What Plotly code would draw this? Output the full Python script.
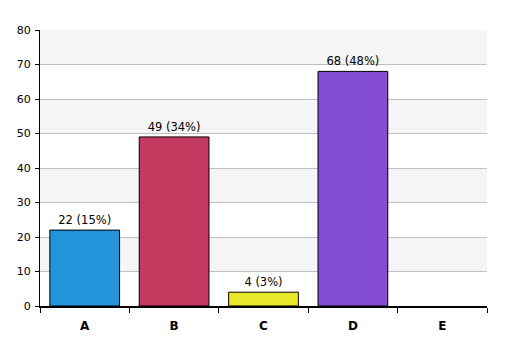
import plotly.graph_objects as go

categories = ["A", "B", "C", "D", "E"]
counts = [22, 49, 4, 68, 0]
percents = [15, 34, 3, 48, 0]
colors = ["#2394db", "#c4395f", "#e8e82a", "#844dd4", "#999999"]
y_ticks = [0, 10, 20, 30, 40, 50, 60, 70, 80]

labels = [f"{c} ({p}%)" if c > 0 else "" for c, p in zip(counts, percents)]
line_widths = [1 if c > 0 else 0 for c in counts]

fig = go.Figure()
fig.add_trace(go.Bar(
    x=categories, y=counts,
    marker=dict(color=colors, line=dict(color="black", width=line_widths)),
    text=labels, textposition="outside", cliponaxis=False,
    textfont=dict(family="DejaVu Sans", size=11.5, color="black"),
))

shapes = []
for i in range(0, len(y_ticks) - 1):
    if i % 2 == 1:
        shapes.append(dict(type="rect", xref="paper", yref="y", x0=0, x1=1,
                           y0=y_ticks[i], y1=y_ticks[i + 1], fillcolor="#f5f5f5",
                           line=dict(width=0), layer="below"))

fig.update_layout(
    width=499, height=348,
    margin=dict(l=32, r=20, t=22, b=50, autoexpand=False),
    plot_bgcolor="white", paper_bgcolor="white",
    bargap=0.22, showlegend=False, shapes=shapes,
    font=dict(family="DejaVu Sans", size=11, color="black"),
)
fig.update_xaxes(
    type="category", tickson="boundaries", ticks="outside", ticklen=5, tickcolor="black",
    showline=True, linecolor="black", linewidth=2, showgrid=False, automargin=False,
    tickfont=dict(family="DejaVu Sans", size=12, color="black", weight="bold"),
    ticklabelstandoff=8,
)
fig.update_yaxes(
    range=[0, 80], tickvals=y_ticks, ticks="outside", ticklen=4, tickcolor="black",
    showline=True, linecolor="black", linewidth=1, showgrid=True, gridcolor="#c0c0c0",
    zeroline=False, automargin=False, ticklabelstandoff=2,
    tickfont=dict(family="DejaVu Sans", size=11, color="black"),
)
fig.write_html("out.html")
